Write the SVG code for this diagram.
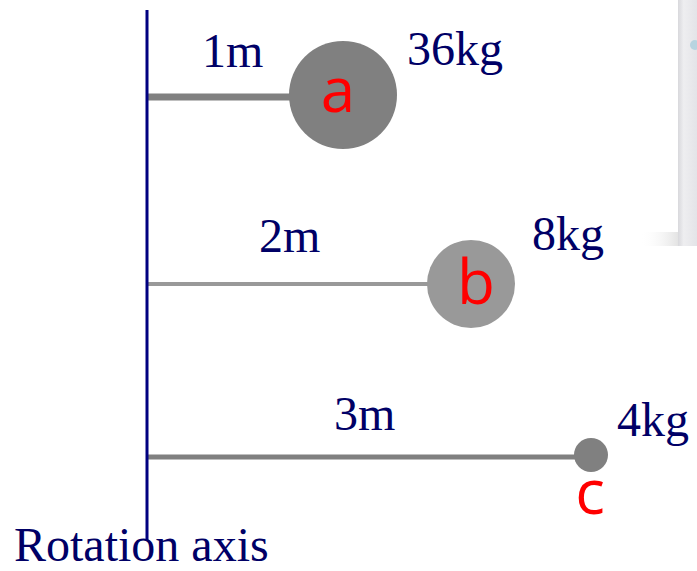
<svg xmlns="http://www.w3.org/2000/svg" width="697" height="571" viewBox="0 0 697 571">
<style>
.lbl{font-family:"Liberation Serif","Times New Roman",serif;font-size:48px;fill:#000066}
.nm{font-family:"Open Sans","Liberation Sans",sans-serif;font-size:62px;fill:#ff0000;text-anchor:middle}
.rod{stroke:#808080;fill:none}
</style>
<defs>
<linearGradient id="dev" x1="0" y1="0" x2="1" y2="0">
<stop offset="0" stop-color="#d8d8dc"/>
<stop offset="0.3" stop-color="#eeeef0"/>
<stop offset="1" stop-color="#e4e4e8"/>
</linearGradient>
<linearGradient id="shd" x1="0" y1="0" x2="1" y2="0">
<stop offset="0" stop-color="#ffffff" stop-opacity="0"/>
<stop offset="1" stop-color="#cccccc"/>
</linearGradient>
</defs>
<g id="device">
<rect x="640" y="232" width="40" height="14" fill="url(#shd)" opacity="0.6"/>
<rect x="678" y="0" width="19" height="246" fill="url(#dev)"/>
<circle cx="695" cy="45" r="5" fill="#b8d4e0"/>
</g>
<g id="connectors">
<line class="rod" x1="148" y1="97" x2="292" y2="97" stroke-width="7"/>
<line class="rod" x1="148" y1="284" x2="430" y2="284" stroke-width="4" style="stroke:#999999"/>
<line class="rod" x1="148" y1="457" x2="576" y2="457" stroke-width="5"/>
</g>
<g id="axis">
<line x1="147" y1="10" x2="147" y2="541" stroke="#000080" stroke-width="3"/>
<text class="lbl" x="14" y="561">Rotation axis</text>
</g>
<g id="node-a">
<circle cx="343" cy="95" r="54" fill="#808080"/>
<text class="nm" x="338" y="112">a</text>
<text class="lbl" x="202" y="67">1m</text>
<text class="lbl" x="407" y="65">36kg</text>
</g>
<g id="node-b">
<circle cx="471" cy="284" r="44" fill="#999999"/>
<text class="nm" x="476" y="304">b</text>
<text class="lbl" x="259" y="252">2m</text>
<text class="lbl" x="532" y="250">8kg</text>
</g>
<g id="node-c">
<circle cx="591" cy="455" r="17" fill="#808080"/>
<text class="nm" x="590" y="514">c</text>
<text class="lbl" x="334" y="430">3m</text>
<text class="lbl" x="617" y="436">4kg</text>
</g>
</svg>
